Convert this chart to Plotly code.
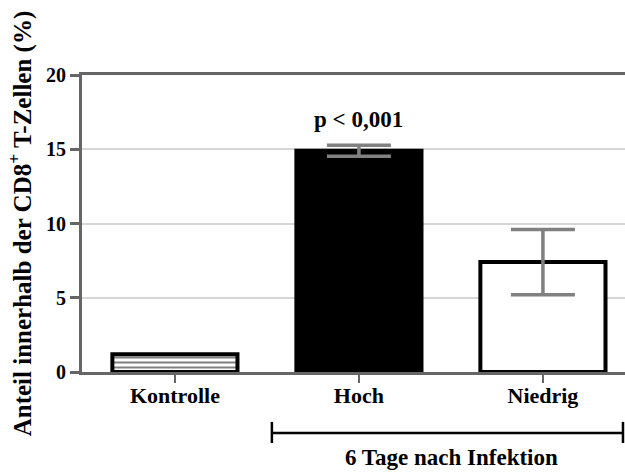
import plotly.graph_objects as go

categories = ["Kontrolle", "Hoch", "Niedrig"]
means = [1.2, 14.9, 7.4]
errors = [0.0, 0.37, 2.2]
fill_colors = ["white", "black", "white"]
patterns = ["-", "", ""]
y_ticks = [0, 5, 10, 15, 20]
p_label = "p < 0,001"
group_label = "6 Tage nach Infektion"
y_title = "Anteil innerhalb der CD8<sup>+</sup> T-Zellen (%)"

FONT = "Liberation Serif"

fig = go.Figure()
for cat, m, e, c, p in zip(categories, means, errors, fill_colors, patterns):
    fig.add_trace(go.Bar(
        x=[cat], y=[m], width=0.68,
        marker=dict(color=c, line=dict(color="black", width=4),
                    pattern=dict(shape=p, fgcolor="black", bgcolor="white",
                                 size=5, solidity=0.4, fillmode="overlay") if p else None),
        error_y=dict(type="data", array=[e], visible=e > 0, color="#808080",
                     thickness=3.5, width=32),
        showlegend=False,
    ))

fig.update_layout(
    width=625, height=473,
    margin=dict(l=82, r=0, t=75, b=101),
    barmode="overlay",
    plot_bgcolor="white", paper_bgcolor="white",
    font=dict(family=FONT, color="black"),
    xaxis=dict(
        range=[-0.505, 2.446], showline=True, linecolor="#666666", linewidth=3,
        mirror=True, ticks="outside", ticklen=8, tickwidth=2, tickcolor="#666666",
        tickfont=dict(family=FONT, size=22, color="black", weight="bold"),
        ticklabelstandoff=-6,
        showgrid=False, zeroline=False,
    ),
    yaxis=dict(
        range=[0, 20], tickvals=y_ticks, showline=True, linecolor="#666666", linewidth=3,
        ticks="outside", ticklen=9, tickwidth=3, tickcolor="#666666",
        tickfont=dict(family=FONT, size=20, color="black", weight="bold"),
        showgrid=True, gridcolor="#d6d6d6", gridwidth=2, zeroline=False,
        title=dict(text=y_title, font=dict(family=FONT, size=25, color="black", weight="bold"),
                   standoff=8),
    ),
)

fig.add_annotation(x=categories[1], y=17.0, xref="x", yref="y", text=p_label,
                   showarrow=False, font=dict(family=FONT, size=23, color="black", weight="bold"))

# bracket for group label
x0, x1 = 0.527, 2.435
fig.add_shape(type="line", xref="x", yref="paper", x0=x0, x1=x1, y0=-0.205, y1=-0.205,
              line=dict(color="black", width=2.5))
for xx in (x0, x1):
    fig.add_shape(type="line", xref="x", yref="paper", x0=xx, x1=xx, y0=-0.168, y1=-0.239,
                  line=dict(color="black", width=2.5))
fig.add_annotation(x=1.505, y=-0.335, xref="x", yref="paper", yanchor="bottom",
                   borderpad=0, text=group_label, showarrow=False,
                   font=dict(family=FONT, size=23, color="black", weight="bold"))

fig.write_html("out.html")
